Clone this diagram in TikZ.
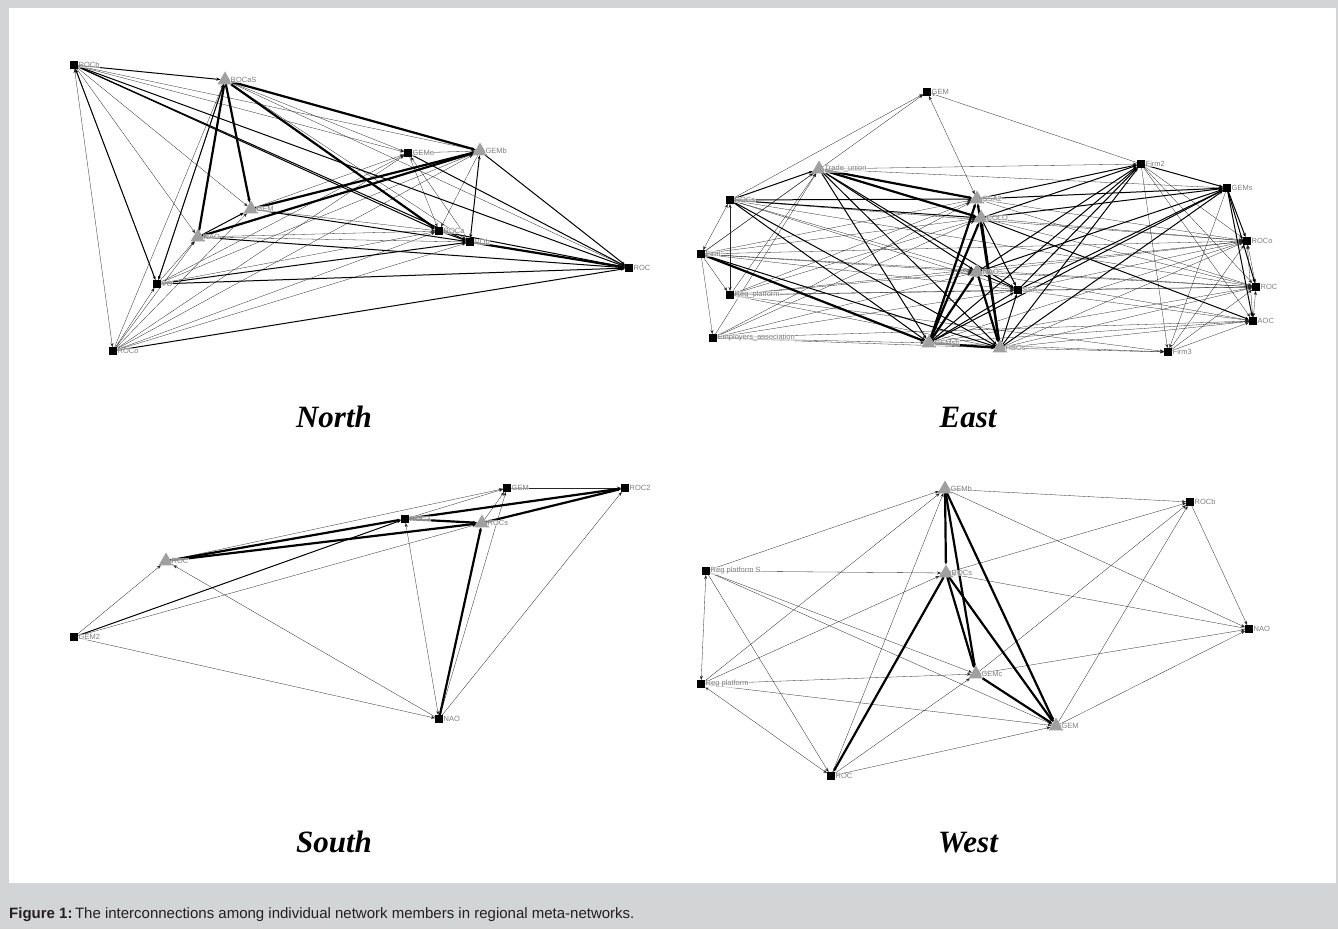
\documentclass[tikz,border=0pt]{standalone}
\usepackage{fontspec}
\setmainfont{Liberation Serif}
\newfontfamily\labfont{Liberation Sans}
\newfontfamily\capfont{Liberation Sans}
\usetikzlibrary{arrows.meta,shapes.geometric}
\definecolor{framegray}{HTML}{D3D4D6}
\definecolor{trigray}{HTML}{A0A0A0}
\definecolor{labgray}{HTML}{808080}
\definecolor{captext}{HTML}{231F20}
\pgfdeclarelayer{bg}
\pgfdeclarelayer{edges}
\pgfsetlayers{bg,edges,main}
\begin{document}
\begin{tikzpicture}[x=1pt,y=-1pt,
  sq/.style={rectangle,fill=black,minimum size=8pt,inner sep=0pt,outer sep=0pt},
  tri/.style={regular polygon,regular polygon sides=3,fill=trigray,minimum size=17pt,inner sep=0pt,outer sep=0pt},
  lab/.style={font=\labfont\fontsize{7.5}{8}\selectfont,text=labgray,inner sep=0.5pt,fill=white,fill opacity=0.6,text opacity=1},
  ar/.style={-{Stealth[length=4pt,width=3pt]}},
  arb/.style={{Stealth[length=4pt,width=3pt]}-{Stealth[length=4pt,width=3pt]}},
  e1/.style={ar,line width=0.3pt,draw=black!85},
  e1b/.style={arb,line width=0.3pt,draw=black!85},
  e2/.style={ar,line width=1pt},
  e2b/.style={arb,line width=1pt},
  e3/.style={ar,line width=2.2pt},
  title/.style={font=\fontsize{31}{36}\selectfont\bfseries\itshape,anchor=base,inner sep=0pt},
  capnode/.style={font=\capfont\fontsize{15}{17}\selectfont,text=captext,anchor=base west,inner sep=0pt}
]
\useasboundingbox (0,0) rectangle (1338,929);
\begin{pgfonlayer}{bg}
\fill[framegray] (0,0) rectangle (1338,929);
\fill[white] (9,8) rectangle (1336,883);
\end{pgfonlayer}

% ---------------- North ----------------
\node[sq,label={[lab]right:ROCb}] (N-Rb) at (74,65) {};
\node[tri,label={[lab]right:ROCaS}] (N-RS) at (225,80) {};
\node[sq,label={[lab]right:GEMo}] (N-Go) at (408,153) {};
\node[tri,label={[lab]right:GEMb}] (N-Gb) at (480,151) {};
\node[tri,label={[lab]right:GEM}] (N-G) at (251,209) {};
\node[tri,label={[lab]right:NAO}] (N-NA) at (198,237) {};
\node[sq,label={[lab]right:ROCa}] (N-Ra) at (439,231) {};
\node[sq,label={[lab]right:VOb}] (N-Vb) at (470,242) {};
\node[sq,label={[lab]right:ROC}] (N-R) at (629,268) {};
\node[sq,label={[lab]right:VO}] (N-V) at (157,284) {};
\node[sq,label={[lab]right:ROCo}] (N-Ro) at (113,351) {};

\begin{pgfonlayer}{edges}
\foreach \a/\b in {Rb/Go,Rb/Gb,Rb/G,Rb/NA,V/Rb,RS/Go,RS/Vb,RS/R,V/RS,Ro/RS,G/Go,G/Ra,Ra/NA,NA/Vb,Go/Gb,Go/Ra,Gb/Ra,V/Ra,V/Gb,V/Go,V/NA,Ro/Vb,Ro/Ra,Ro/Go,Ro/Gb,Ro/G,Ro/NA,Ro/V,Vb/Go}
  \draw[e1] (N-\a) -- (N-\b);
\draw[e1b] (N-Rb) -- (N-Ro);
\foreach \a/\b in {Rb/RS,Rb/Ra,Rb/Vb,Rb/R,Rb/V,RS/V,G/Vb,NA/G,NA/R,Ra/Vb,Ra/R,V/R,V/Vb,Ro/R,Go/R,Gb/R}
  \draw[e2] (N-\a) -- (N-\b);
\draw[e2b] (N-Gb) -- (N-Vb);
\foreach \a/\b in {RS/Gb,RS/Ra,RS/G,NA/RS,G/Gb,NA/Gb,Vb/R}
  \draw[e3] (N-\a) -- (N-\b);
\end{pgfonlayer}

% ---------------- East ----------------
\node[sq,label={[lab]right:GEM}] (E-G) at (927,92) {};
\node[tri,label={[lab]right:Trade\textunderscore union}] (E-TU) at (819,169) {};
\node[sq,label={[lab]right:Firm2}] (E-F2) at (1141,164) {};
\node[sq,label={[lab]right:GEMs}] (E-Gs) at (1227,188) {};
\node[sq,label={[lab]right:ROCs}] (E-Rs) at (730,200) {};
\node[tri,label={[lab]right:SSA2}] (E-S2) at (977,199) {};
\node[tri,label={[lab]right:COLO}] (E-CO) at (981,218) {};
\node[sq,label={[lab]right:ROCo}] (E-Ro) at (1247,241) {};
\node[sq,label={[lab]right:Firm}] (E-F) at (701,254) {};
\node[tri,label={[lab]right:NAO}] (E-NA) at (977,272) {};
\node[sq,label={[lab]right:Reg\textunderscore platform}] (E-RP) at (730,295) {};
\node[sq,label={[lab]right:SSA}] (E-SA) at (1018,290) {};
\node[sq,label={[lab]right:ROC}] (E-R) at (1256,287) {};
\node[sq,label={[lab]right:AOC}] (E-AO) at (1253,321) {};
\node[sq,label={[lab]right:Employers\textunderscore association}] (E-EA) at (713,338) {};
\node[tri,label={[lab]right:GEMsb}] (E-Gsb) at (929,343) {};
\node[tri,label={[lab]right:HBOs}] (E-HB) at (1000,348) {};
\node[sq,label={[lab]right:Firm3}] (E-F3) at (1168,352) {};

\begin{pgfonlayer}{edges}
\foreach \a/\b in {Rs/G,F/G,F2/G,TU/F2,TU/Gs,F/TU,RP/TU,EA/TU,Rs/SA,Rs/Ro,Rs/R,F/RP,F/EA,F/NA,F/SA,F/CO,F/S2,F/R,F/Ro,RP/SA,RP/HB,RP/S2,RP/CO,RP/NA,RP/R,RP/Ro,RP/F3,EA/Gsb,EA/HB,EA/S2,EA/CO,EA/NA,EA/SA,EA/AO,HB/F3,HB/Ro,HB/R,HB/AO,S2/Ro,S2/R,CO/Ro,CO/R,SA/Ro,SA/R,SA/AO,F2/F3,F2/Ro,F2/R,F2/AO,Gs/F3,F3/Ro,F3/R,F3/AO,Gsb/F3,Gsb/Ro,Gsb/R,Gsb/AO,NA/Ro,NA/R,NA/AO,Rs/NA}
  \draw[e1] (E-\a) -- (E-\b);
\foreach \a/\b in {G/S2,Ro/R,R/AO,Ro/AO,Rs/RP,F/Rs}
  \draw[e1b] (E-\a) -- (E-\b);
\foreach \a/\b in {Rs/TU,TU/NA,TU/SA,TU/Gsb,TU/HB,Rs/S2,Rs/CO,Rs/Gsb,Rs/HB,F/HB,Gsb/SA,HB/SA,Gsb/F2,Gsb/Gs,HB/F2,HB/Gs,S2/F2,S2/Gs,CO/F2,CO/Gs,CO/AO,NA/F2,NA/Gs,SA/F2,SA/Gs,F2/Gs,Gs/Ro,Gs/R,Gs/AO,CO/SA,NA/SA}
  \draw[e2] (E-\a) -- (E-\b);
\foreach \a/\b in {TU/S2,TU/CO,F/Gsb,Gsb/S2,Gsb/CO,Gsb/NA,HB/CO,HB/S2,Gsb/HB,NA/HB}
  \draw[e3] (E-\a) -- (E-\b);
\end{pgfonlayer}

% ---------------- South ----------------
\node[sq,label={[lab]right:GEM}] (S-G) at (507,488) {};
\node[sq,label={[lab]right:ROC2}] (S-R2) at (625,488) {};
\node[sq,label={[lab]right:ROC3}] (S-R3) at (405,519) {};
\node[tri,label={[lab]right:ROCs}] (S-Rs) at (482,523) {};
\node[tri,label={[lab]right:ROC}] (S-R) at (166,561) {};
\node[sq,label={[lab]right:GEM2}] (S-G2) at (74,637) {};
\node[sq,label={[lab]right:NAO}] (S-NA) at (439,719) {};

\begin{pgfonlayer}{edges}
\foreach \a/\b in {R/G,G2/R,G2/Rs,G2/NA,NA/R,NA/G,NA/R2,R3/G,Rs/G,G/R2}
  \draw[e1] (S-\a) -- (S-\b);
\draw[e1b] (S-NA) -- (S-R3);
\draw[e2] (S-G2) -- (S-R3);
\foreach \a/\b in {R/R3,R/Rs,R3/R2,R3/Rs,Rs/R2,NA/Rs}
  \draw[e3] (S-\a) -- (S-\b);
\end{pgfonlayer}

% ---------------- West ----------------
\node[tri,label={[lab]right:GEMb}] (W-Gb) at (945,489) {};
\node[sq,label={[lab]right:ROCb}] (W-Rb) at (1190,502) {};
\node[sq,label={[lab]right:Reg platform S}] (W-RS) at (706,571) {};
\node[tri,label={[lab]right:ROCs}] (W-Rs) at (946,573) {};
\node[sq,label={[lab]right:NAO}] (W-NA) at (1249,629) {};
\node[tri,label={[lab]right:GEMc}] (W-Gc) at (976,674) {};
\node[sq,label={[lab]right:Reg platform}] (W-RP) at (701,684) {};
\node[tri,label={[lab]right:GEM}] (W-G) at (1056,726) {};
\node[sq,label={[lab]right:ROC}] (W-R) at (831,776) {};

\begin{pgfonlayer}{edges}
\foreach \a/\b in {Gb/Rb,Gb/NA,Rs/Rb,NA/Rs,Gc/NA,Gc/Rb,RS/Gb,RS/Rs,RS/Gc,RS/G,RS/R,RP/Gb,RP/Rs,RP/Gc,RP/G,R/Gb,R/Gc,R/G,G/Rb,G/NA,Rb/NA}
  \draw[e1] (W-\a) -- (W-\b);
\foreach \a/\b in {RS/RP,RP/R}
  \draw[e1b] (W-\a) -- (W-\b);
\foreach \a/\b in {Gb/Rs,Gb/Gc,Gb/G,Rs/R,Rs/Gc,Rs/G,Gc/G}
  \draw[e3] (W-\a) -- (W-\b);
\end{pgfonlayer}

% ---------------- Titles and caption ----------------
\node[title] (tN) at (334,427) {North};
\node[title] (tE) at (968,427) {East};
\node[title] (tS) at (334,852) {South};
\node[title] (tW) at (968,852) {West};
\node[capnode] (cap) at (9,918) {\textbf{Figure 1:}\,The interconnections among individual network members in regional meta-networks.};
\end{tikzpicture}
\end{document}
